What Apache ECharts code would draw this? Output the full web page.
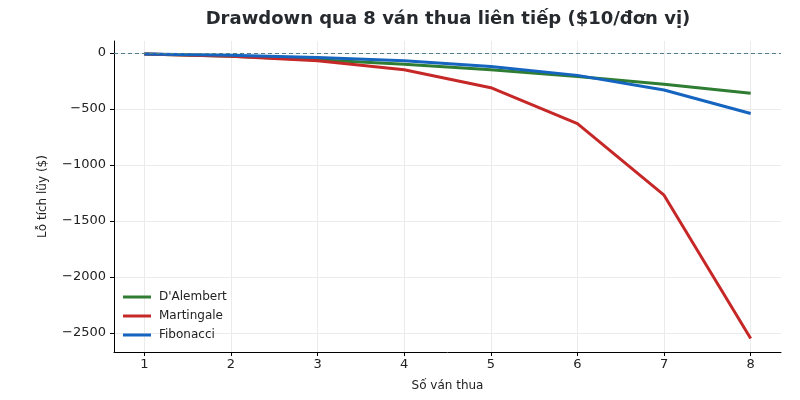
<!DOCTYPE html>
<html>
<head>
<meta charset="utf-8">
<script src="https://cdn.jsdelivr.net/npm/echarts@6/dist/echarts.min.js"></script>
<style>
  html, body { margin: 0; padding: 0; background: #fff; }
  #chart { width: 800px; height: 400px; }
</style>
</head>
<body>
<div id="chart"></div>
<script>
// số ván thua liên tiếp
const rounds = [1, 2, 3, 4, 5, 6, 7, 8];
// lỗ tích lũy ($), đơn vị $10
const dalembert = [-10, -30, -60, -100, -150, -210, -280, -360];
const martingale = [-10, -30, -70, -150, -310, -630, -1270, -2550];
const fibonacci = [-10, -20, -40, -70, -120, -200, -330, -540];
const yTicks = [-2500, -2000, -1500, -1000, -500, 0];

const font = 'DejaVu Sans';

function pairs(vals) {
    return rounds.map((r, i) => [r, vals[i]]);
}

function lineSeries(name, vals, color) {
    return {
        name: name,
        type: 'line',
        data: pairs(vals),
        showSymbol: false,
        symbol: 'none',
        lineStyle: { width: 3, color: color },
        itemStyle: { color: color },
        z: 3
    };
}

let myChart = echarts.init(document.getElementById('chart'));
let series = [
    lineSeries("D'Alembert", dalembert, '#2e7d32'),
    lineSeries('Martingale', martingale, '#c62828'),
    lineSeries('Fibonacci', fibonacci, '#1565c0')
];
series[0].markLine = {
    silent: true,
    symbol: 'none',
    label: { show: false },
    lineStyle: { type: [4, 3], color: '#4f7f8f', width: 1 },
    data: [{ yAxis: 0 }]
};

let options = {
    animation: false,
    backgroundColor: '#fff',
    title: {
        text: 'Drawdown qua 8 ván thua liên tiếp ($10/đơn vị)',
        left: 443,
        textAlign: 'center',
        top: 5,
        textStyle: { fontFamily: font, fontSize: 18, fontWeight: 'bold', color: '#262a2e' }
    },
    legend: {
        orient: 'vertical',
        left: 118,
        top: 286,
        itemWidth: 28,
        itemHeight: 3,
        itemGap: 7,
        icon: 'rect',
        textStyle: { fontFamily: font, fontSize: 12, color: '#222', padding: [0, 0, 0, 3] },
        data: ["D'Alembert", 'Martingale', 'Fibonacci']
    },
    grid: { left: 114, right: 19, top: 41, bottom: 48, containLabel: false },
    xAxis: {
        type: 'value',
        min: 0.65,
        max: 8.35,
        name: 'Số ván thua',
        nameLocation: 'middle',
        nameGap: 28,
        nameTextStyle: { fontFamily: font, fontSize: 12, color: '#222' },
        axisLine: { show: true, onZero: false, lineStyle: { color: '#000', width: 1 } },
        axisTick: { show: true, customValues: rounds, length: 4, lineStyle: { color: '#000' } },
        axisLabel: { customValues: rounds, fontFamily: font, fontSize: 13, color: '#222', margin: 6 },
        splitLine: { show: true, lineStyle: { color: '#ebebeb', width: 1 } }
    },
    yAxis: {
        type: 'value',
        min: -2670,
        max: 107,
        name: 'Lỗ tích lũy ($)',
        nameLocation: 'middle',
        nameGap: 65,
        nameRotate: 90,
        nameTextStyle: { fontFamily: font, fontSize: 12, color: '#222' },
        axisLine: { show: true, onZero: false, lineStyle: { color: '#000', width: 1 } },
        axisTick: { show: true, customValues: yTicks, length: 4, lineStyle: { color: '#000' } },
        axisLabel: {
            customValues: yTicks,
            fontFamily: font, fontSize: 13, color: '#222', margin: 8,
            formatter: v => (v < 0 ? '\u2212' + Math.abs(v) : String(v))
        },
        splitLine: { show: true, lineStyle: { color: '#ebebeb', width: 1 } }
    },
    series: series
};
myChart.setOption(options);
</script>
</body>
</html>
